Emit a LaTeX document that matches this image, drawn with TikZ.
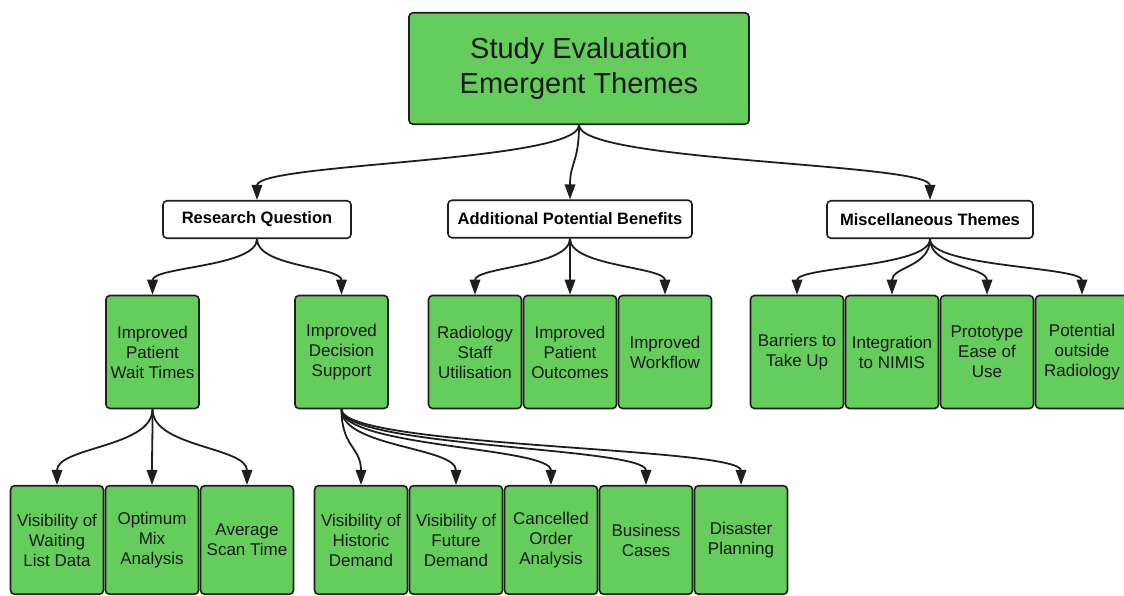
\documentclass[tikz,border=0pt]{standalone}
\usepackage{fontspec}
\setmainfont{Liberation Sans}
\usetikzlibrary{arrows.meta}
\definecolor{themegreen}{RGB}{100,205,92}
\definecolor{edgegray}{RGB}{30,30,30}
\begin{document}
\begin{tikzpicture}[x=1pt,y=1pt,
    >={Triangle[length=15pt,width=10.5pt]},
    box/.style={draw=edgegray, line width=1.6pt, rounded corners=4pt, align=center, inner sep=2pt},
    leaf/.style={box, fill=themegreen, text=black!90, minimum width=93pt, minimum height=113pt, font=\fontsize{17}{20}\selectfont},
    lowleaf/.style={leaf, minimum height=108.5pt},
    heading/.style={box, fill=white, minimum height=37.5pt, font=\fontsize{16.5}{20}\selectfont\bfseries},
    link/.style={->, line width=1.8pt, draw=edgegray, out=-90, in=90, distance=#1},
    link/.default=28pt]
    \useasboundingbox (0,0) rectangle (1124,-596);

    % Titulo
    \node[box, fill=themegreen, text=black!90, minimum width=340pt, minimum height=111.5pt, font=\fontsize{29}{35}\selectfont] (top) at (579,-68.5) {Study Evaluation\\Emergent Themes};

    % Temas
    \node[heading, minimum width=188pt] (rq) at (257,-219.5) {Research Question};
    \node[heading, minimum width=244pt] (apb) at (570,-219) {Additional Potential Benefits};
    \node[heading, minimum width=206pt] (mt) at (930,-219.5) {Miscellaneous Themes};
    \foreach \c in {rq,apb,mt} {
        \draw[link=37pt] (top.south) to (\c.north);
    }

    % Subtemas
    \foreach \id/\x/\txt in {ipwt/152.5/{Improved\\Patient\\Wait Times}, ids/341.5/{Improved\\Decision\\Support},
        rsu/475/{Radiology\\Staff\\Utilisation}, ipo/570/{Improved\\Patient\\Outcomes}, iw/665/{Improved\\Workflow},
        btu/797/{Barriers to\\Take Up}, itn/892/{Integration\\to NIMIS}, peu/987/{Prototype\\Ease of\\Use}, por/1082/{Potential\\outside\\Radiology}} {
        \node[leaf] (\id) at (\x,-352) {\txt};
    }
    \foreach \c in {ipwt,ids} { \draw[link] (rq.south) to (\c.north); }
    \foreach \c in {rsu,ipo,iw} { \draw[link] (apb.south) to (\c.north); }
    \foreach \c in {btu,itn,peu,por} { \draw[link] (mt.south) to (\c.north); }

    % Nivel inferior
    \foreach \id/\x/\txt in {vwl/57/{Visibility of\\Waiting\\List Data}, oma/152/{Optimum\\Mix\\Analysis}, ast/247/{Average\\Scan Time},
        vhd/361/{Visibility of\\Historic\\Demand}, vfd/456/{Visibility of\\Future\\Demand}, coa/551/{Cancelled\\Order\\Analysis},
        bc/646/{Business\\Cases}, dp/741/{Disaster\\Planning}} {
        \node[lowleaf] (\id) at (\x,-540) {\txt};
    }
    \foreach \c in {vwl,oma,ast} { \draw[link=38pt] (ipwt.south) to (\c.north); }
    \foreach \c in {vhd,vfd,coa,bc,dp} { \draw[link=38pt] (ids.south) to (\c.north); }
\end{tikzpicture}
\end{document}
